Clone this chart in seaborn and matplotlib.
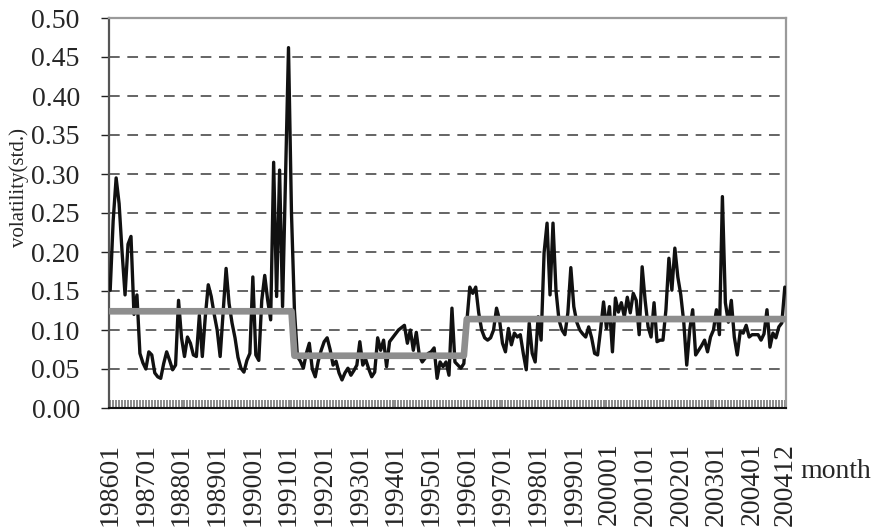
import numpy as np
import pandas as pd
import matplotlib
matplotlib.use("Agg")
import matplotlib.pyplot as plt
import seaborn as sns

# ---- data -------------------------------------------------------------
months = pd.period_range("1986-01", "2004-12", freq="M").strftime("%Y%m").tolist()

volatility = [
    0.151, 0.240, 0.295, 0.262, 0.200, 0.145, 0.210, 0.220, 0.120, 0.145, 0.070, 0.058,  # 1986
    0.050, 0.072, 0.068, 0.045, 0.040, 0.038, 0.057, 0.072, 0.061, 0.049, 0.055, 0.138,  # 1987
    0.090, 0.066, 0.091, 0.083, 0.068, 0.066, 0.119, 0.066, 0.117, 0.158, 0.143, 0.120,  # 1988
    0.100, 0.066, 0.122, 0.179, 0.134, 0.109, 0.090, 0.065, 0.051, 0.046, 0.061, 0.070,  # 1989
    0.168, 0.068, 0.061, 0.138, 0.170, 0.138, 0.113, 0.315, 0.143, 0.305, 0.130, 0.296,  # 1990
    0.462, 0.250, 0.125, 0.066, 0.060, 0.051, 0.070, 0.083, 0.050, 0.040, 0.060, 0.074,  # 1991
    0.085, 0.090, 0.075, 0.055, 0.060, 0.045, 0.036, 0.045, 0.051, 0.042, 0.048, 0.055,  # 1992
    0.085, 0.055, 0.062, 0.050, 0.040, 0.046, 0.090, 0.074, 0.087, 0.053, 0.085, 0.090,  # 1993
    0.095, 0.100, 0.103, 0.106, 0.083, 0.100, 0.074, 0.097, 0.068, 0.059, 0.064, 0.070,  # 1994
    0.072, 0.077, 0.038, 0.059, 0.053, 0.059, 0.042, 0.128, 0.059, 0.055, 0.051, 0.057,  # 1995
    0.110, 0.155, 0.147, 0.155, 0.122, 0.100, 0.090, 0.087, 0.090, 0.100, 0.128, 0.113,  # 1996
    0.083, 0.072, 0.102, 0.081, 0.096, 0.091, 0.094, 0.070, 0.049, 0.109, 0.070, 0.059,  # 1997
    0.117, 0.087, 0.199, 0.237, 0.145, 0.237, 0.151, 0.113, 0.100, 0.094, 0.122, 0.180,  # 1998
    0.130, 0.110, 0.100, 0.095, 0.091, 0.104, 0.090, 0.070, 0.068, 0.100, 0.136, 0.102,  # 1999
    0.130, 0.072, 0.141, 0.123, 0.135, 0.117, 0.142, 0.122, 0.147, 0.138, 0.094, 0.181,  # 2000
    0.138, 0.104, 0.091, 0.135, 0.085, 0.087, 0.087, 0.126, 0.192, 0.151, 0.205, 0.168,  # 2001
    0.145, 0.110, 0.055, 0.100, 0.126, 0.068, 0.074, 0.080, 0.087, 0.072, 0.091, 0.100,  # 2002
    0.126, 0.094, 0.271, 0.135, 0.110, 0.138, 0.091, 0.068, 0.098, 0.096, 0.106, 0.091,  # 2003
    0.094, 0.094, 0.094, 0.087, 0.095, 0.126, 0.078, 0.096, 0.090, 0.104, 0.109, 0.155,  # 2004
]

regime_start = ["198601", "199103", "199601"]
regime_mean = [0.124, 0.067, 0.114]

tick_labels = ["198601", "198701", "198801", "198901", "199001", "199101",
               "199201", "199301", "199401", "199501", "199601", "199701",
               "199801", "199901", "200001", "200101", "200201", "200301",
               "200401", "200412"]

y_ticks = [0.00, 0.05, 0.10, 0.15, 0.20, 0.25, 0.30, 0.35, 0.40, 0.45, 0.50]

# ---- build frame ------------------------------------------------------
regime = []
for m in months:
    idx = max(i for i, s in enumerate(regime_start) if s <= m)
    regime.append(regime_mean[idx])

df = pd.DataFrame({"pos": np.arange(len(months)), "month": months,
                   "vol": volatility, "regime": regime})

# ---- plot -------------------------------------------------------------
sns.set_theme(style="white")
plt.rcParams["font.family"] = ["Liberation Serif", "DejaVu Serif"]

fig = plt.figure(figsize=(8.82, 5.28), dpi=100)
ax = fig.add_axes([109 / 882, 1 - 408 / 528, (786 - 109) / 882, 390 / 528])

for yv in y_ticks[1:-1]:
    ax.axhline(yv, color="#3a3a3a", lw=1.1, ls=(0, (7, 5)), zorder=0)

sns.lineplot(data=df, x="pos", y="vol", color="#111111", lw=2.4, ax=ax, zorder=3)
sns.lineplot(data=df, x="pos", y="regime", color="#8e8e8e", lw=4.8, ax=ax, zorder=4)

ax.set_xlim(-0.4, len(months) - 0.6)
ax.set_ylim(0, 0.5)
ax.set_xlabel("")
ax.set_ylabel("")

ax.set_yticks(y_ticks)
ax.set_yticklabels([f"{v:.2f}" for v in y_ticks], fontsize=20)
ax.tick_params(axis="y", direction="out", length=6, width=1, pad=15,
               color="#222222", left=True)

ax.xaxis.remove_overlapping_locs = False
ax.set_xticks([months.index(t) for t in tick_labels])
ax.set_xticklabels(tick_labels, rotation=90, fontsize=20)
ax.set_xticks(np.arange(len(months)), minor=True)
ax.tick_params(axis="x", which="major", length=0, pad=25)
ax.tick_params(axis="x", which="minor", direction="in", length=6, width=1.1,
               color="#6a6a6a", bottom=True)

ax.spines["left"].set_color("#555555")
ax.spines["left"].set_linewidth(1.6)
ax.spines["bottom"].set_color("#111111")
ax.spines["bottom"].set_linewidth(1.5)
for s in ("top", "right"):
    ax.spines[s].set_color("#9a9a9a")
    ax.spines[s].set_linewidth(1.6)

fig.text(19 / 882, 1 - 187 / 528, "volatility(std.)", rotation=90,
         ha="center", va="center", fontsize=15)
fig.text(800 / 882, 1 - 472 / 528, "month", ha="left", va="center", fontsize=20)

fig.savefig("out.png", dpi=100)
